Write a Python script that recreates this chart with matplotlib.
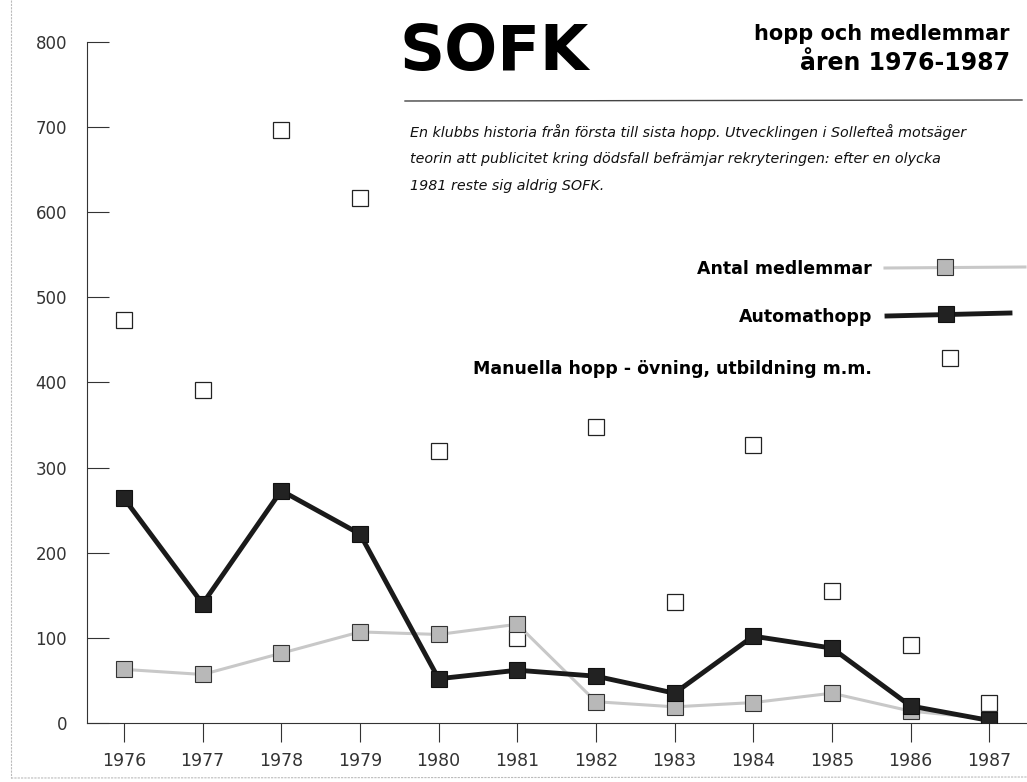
import matplotlib
matplotlib.use("Agg")
import matplotlib.pyplot as plt
from matplotlib.lines import Line2D

years = [1976, 1977, 1978, 1979, 1980, 1981, 1982, 1983, 1984, 1985, 1986, 1987]
members = [63, 57, 82, 107, 104, 116, 25, 19, 24, 35, 14, 5]
auto_jumps = [264, 140, 273, 222, 52, 62, 55, 35, 102, 88, 20, 3]
manual_jumps = [474, 391, 697, 617, 320, 100, 348, 142, 327, 155, 92, 24]
yticks = [0, 100, 200, 300, 400, 500, 600, 700, 800]

fig = plt.figure(figsize=(10.27, 7.82), dpi=100)
fig.patch.set_facecolor("white")
ax = fig.add_axes([87/1027, 1-723/782, 1-87/1027, (723-42)/782])
ax.set_xlim(1975.53, 1987.48)
ax.set_ylim(0, 800)
for s in ["top", "right"]:
    ax.spines[s].set_visible(False)
for s in ["left", "bottom"]:
    ax.spines[s].set_linewidth(0.8)
    ax.spines[s].set_color("#333333")

ax.plot(years, manual_jumps, linestyle="none", marker="s", markersize=11.5,
        markerfacecolor="white", markeredgecolor="#222222", markeredgewidth=0.9, zorder=3)
ax.plot(years, members, color="#c8c8c8", linewidth=2.2, marker="s", markersize=11.5,
        markerfacecolor="#b8b8b8", markeredgecolor="#333333", markeredgewidth=0.8, zorder=4)
ax.plot(years, auto_jumps, color="#1a1a1a", linewidth=3.5, marker="s", markersize=12,
        markerfacecolor="#222222", markeredgecolor="#111111", markeredgewidth=0.8, zorder=5)

ax.set_yticks(yticks)
ax.set_yticklabels([str(v) for v in yticks])
ax.tick_params(axis="y", direction="in", length=16, width=0.8, color="#333333",
               labelsize=12, labelcolor="#333333", pad=-2)
for lab in ax.get_yticklabels():
    lab.set_horizontalalignment("right")
    lab.set_x(-0.024)
ax.set_xticks(years)
ax.set_xticklabels([str(y) for y in years])
ax.tick_params(axis="x", direction="out", length=14, width=0.8, color="#333333",
               labelsize=12.5, labelcolor="#333333", pad=7)

def fx(x):
    return x/1027
def fy(y):
    return 1-y/782

# Header
fig.text(fx(400), fy(53), "SOFK", fontsize=45, fontweight="heavy",
         family="DejaVu Sans", va="center", ha="left", color="black")
fig.text(fx(1010), fy(34), "hopp och medlemmar", fontsize=15, fontweight="bold",
         va="center", ha="right", color="black")
fig.text(fx(1010), fy(63), "åren 1976-1987", fontsize=17, fontweight="bold",
         va="center", ha="right", color="black")
fig.add_artist(Line2D([fx(405), fx(1022)], [fy(101), fy(100)],
                      transform=fig.transFigure, color="#444444", linewidth=1.0))
desc = ["En klubbs historia från första till sista hopp. Utvecklingen i Sollefteå motsäger",
        "teorin att publicitet kring dödsfall befrämjar rekryteringen: efter en olycka",
        "1981 reste sig aldrig SOFK."]
for i, line in enumerate(desc):
    fig.text(fx(410), fy(132+27*i), line, fontsize=10.3, style="italic",
             va="center", ha="left", color="#111111")

# Legend
fig.text(fx(872), fy(269), "Antal medlemmar", fontsize=12.5, fontweight="bold", ha="right", va="center")
fig.add_artist(Line2D([fx(885), fx(1025)], [fy(268), fy(267)], transform=fig.transFigure,
                      color="#c8c8c8", linewidth=2.2))
fig.add_artist(Line2D([fx(945)], [fy(267)], transform=fig.transFigure, marker="s", markersize=11.5,
                      markerfacecolor="#b8b8b8", markeredgecolor="#333333", markeredgewidth=0.8, linestyle="none"))

fig.text(fx(872), fy(317), "Automathopp", fontsize=12.5, fontweight="bold", ha="right", va="center")
fig.add_artist(Line2D([fx(887), fx(1010)], [fy(316), fy(313)], transform=fig.transFigure,
                      color="#1a1a1a", linewidth=3.5))
fig.add_artist(Line2D([fx(946)], [fy(314)], transform=fig.transFigure, marker="s", markersize=12,
                      markerfacecolor="#222222", markeredgecolor="#111111", markeredgewidth=0.8, linestyle="none"))

fig.text(fx(872), fy(369), "Manuella hopp - övning, utbildning m.m.", fontsize=12.5, fontweight="bold",
         ha="right", va="center")
fig.add_artist(Line2D([fx(950)], [fy(358)], transform=fig.transFigure, marker="s", markersize=11.5,
                      markerfacecolor="white", markeredgecolor="#222222", markeredgewidth=0.9, linestyle="none"))

# faint scan border
fig.add_artist(Line2D([fx(11), fx(11)], [fy(0), fy(778)], transform=fig.transFigure,
                      color="#bbbbbb", linewidth=0.8, linestyle=(0, (2, 1))))
fig.add_artist(Line2D([fx(11), fx(1027)], [fy(778), fy(777)], transform=fig.transFigure,
                      color="#bbbbbb", linewidth=0.8, linestyle=(0, (2, 1))))

fig.savefig("out.png", dpi=100, facecolor="white")
